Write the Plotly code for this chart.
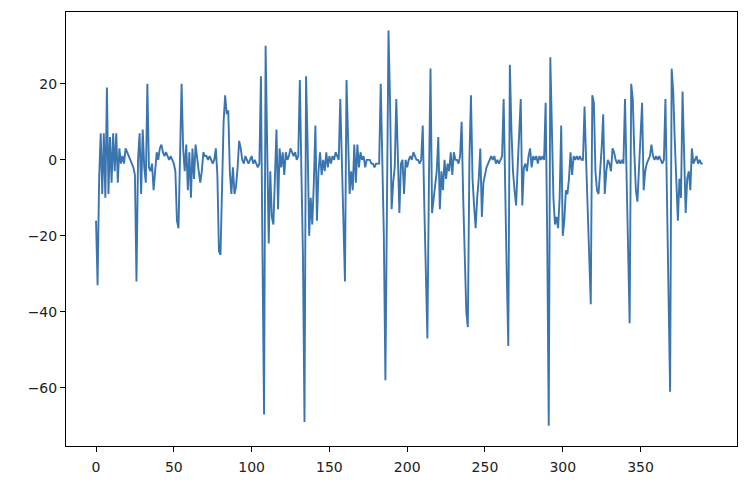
import plotly.graph_objects as go

# signal samples (index 0..390)
signal = [
    -16, -33, -5, 7, -9, 7, -10, 19, -9, 6,
    -6, 7, -3, 7, -6, 3, -1, 1, -1, 3,
    2, 1, 0, -1, -2, -4, -32, 0, 7, -9,
    8, -2, -6, 20, -2, -3, -1, -8, -3, 2,
    0, 3, 4, 2, 1, 2, 1, 0, 1, 0,
    -1, -3, -16, -18, 4, 20, 3, -3, 4, -8,
    2, -10, 3, -5, 4, 0, -3, -6, -3, 2,
    1, 1, 0, 1, 0, -1, 0, 3, -4, -24,
    -25, -6, 10, 17, 12, 13, -3, -9, -2, -9,
    -7, -2, 5, 3, 0, -1, 1, 0, -1, 0,
    1, -1, 0, -1, -2, -1, 22, -25, -67, 30,
    4, -22, -3, -15, -17, -1, 8, -13, 3, -2,
    2, -4, 2, 0, 1, 3, 2, 1, 2, 0,
    1, 21, -3, -25, -69, 22, 4, -20, -10, -17,
    -6, 9, -16, -3, 2, -4, 0, -3, 2, -2,
    1, -1, 1, 0, 2, 1, 0, 16, -2, -20,
    -32, 21, 5, -9, -3, -8, 4, -6, 4, -2,
    2, 0, 1, -2, 0, 0, 0, -1, -1, -2,
    -1, -1, -1, 20, 2, -20, -58, -5, 34, 15,
    -13, -6, -2, 16, 2, -14, -1, 0, -9, 0,
    -2, 0, 1, 0, 2, 1, 0, 0, -1, 0,
    9, -12, -30, -47, -5, 24, -14, -10, -7, -3,
    6, -13, -3, -8, 0, -5, -1, -3, 2, -4,
    2, 0, 0, -1, 1, 10, -10, -25, -40, -44,
    0, 17, -5, -12, -18, -10, -5, 3, -15, -6,
    -4, -2, -1, 0, 1, 0, 1, -1, 0, -1,
    0, 1, 16, -10, -30, -49, 25, 8, -3, -8,
    -12, -2, 8, 16, -12, -2, -1, -3, 1, 3,
    -2, 1, 0, 1, -1, 1, 0, 1, 0, 15,
    -20, -70, 27, 5, -10, -17, -15, -18, -10, 9,
    -20, -16, -8, -9, -5, 2, -4, 1, 0, 1,
    0, 1, 0, 0, 14, 0, -15, -30, -38, 17,
    15, -3, -8, -9, -3, 3, 12, -9, -3, 0,
    -1, -3, 3, 2, 0, -1, 0, -1, 0, -1,
    16, -5, -25, -43, 20, 16, 2, -8, -11, -2,
    5, 15, -8, -3, -1, 0, 1, 4, 1, 0,
    1, 0, 1, 0, -1, 0, 16, -10, -35, -61,
    24, 18, 5, -8, -16, -5, -10, 18, 3, -14,
    -5, -3, -8, 3, -1, 0, 1, -1, 0, -1,
    -1,
]
sample_index = list(range(len(signal)))

x_ticks = [0, 50, 100, 150, 200, 250, 300, 350]
y_ticks = [-60, -40, -20, 0, 20]
y_tick_text = ["\u221260", "\u221240", "\u221220", "0", "20"]

fig = go.Figure()
fig.add_trace(
    go.Scatter(
        x=sample_index,
        y=signal,
        mode="lines",
        line=dict(color="#3a75af", width=1.9),
        showlegend=False,
    )
)

axis_style = dict(
    showgrid=False,
    zeroline=False,
    showline=True,
    linecolor="black",
    linewidth=1,
    mirror=True,
    ticks="outside",
    ticklen=5,
    tickcolor="black",
    automargin=False,
    tickfont=dict(family="DejaVu Sans", size=14, color="#222222"),
)

fig.update_xaxes(range=[-19.3, 412], tickvals=x_ticks, ticklabelstandoff=3, **axis_style)
fig.update_yaxes(range=[-75.3, 38.9], tickvals=y_ticks, ticktext=y_tick_text, **axis_style)

fig.update_layout(
    width=750,
    height=492,
    margin=dict(l=66, r=13, t=12, b=46),
    paper_bgcolor="white",
    plot_bgcolor="white",
)

# drop the browser's default body margin so the figure sits at the page corner
fig.write_html(
    "out.html",
    config={"displayModeBar": False},
    post_script="document.body.style.margin = '0';",
)
